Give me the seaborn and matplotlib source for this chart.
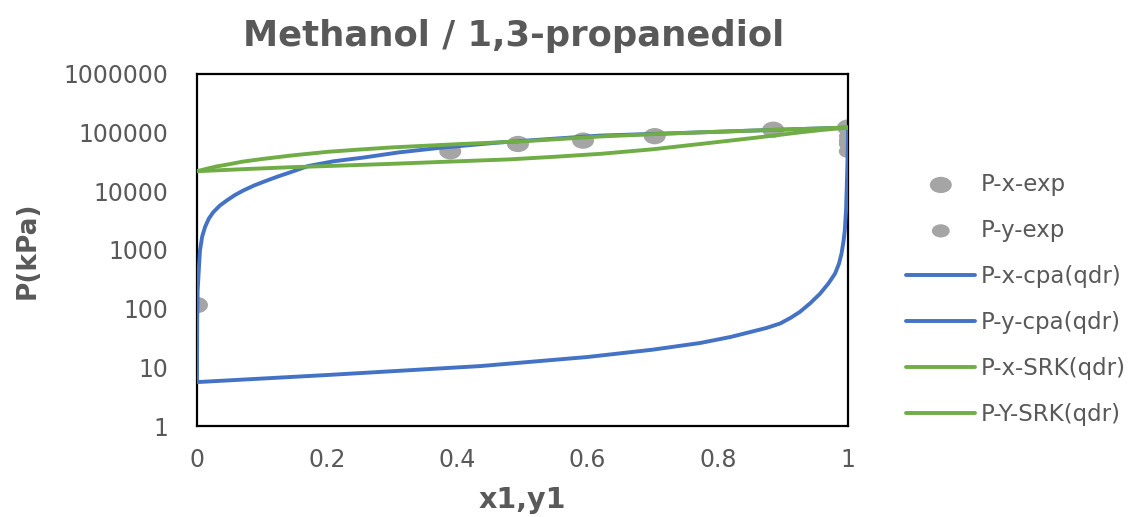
import matplotlib
matplotlib.use("Agg")
import matplotlib.pyplot as plt
from matplotlib.path import Path
import seaborn as sns

# Experimental points
x_exp = [0.0, 0.389, 0.493, 0.593, 0.703, 0.885, 1.0]
p_x_exp = [115, 48000, 64000, 73000, 87000, 112000, 122000]
y_exp = [0.9995, 0.9996, 0.9997, 0.9998, 0.9999]
p_y_exp = [48000, 64000, 73000, 87000, 112000]

# CPA model, bubble and dew curves
x_cpa = [0.0, 0.0003, 0.001, 0.003, 0.0046, 0.008, 0.0123, 0.018, 0.025, 0.035,
         0.0456, 0.058, 0.071, 0.088, 0.107, 0.125, 0.143, 0.171, 0.21, 0.255,
         0.31, 0.373, 0.465, 0.55, 0.619, 0.7, 0.773, 0.85, 0.926, 1.0]
p_x_cpa = [5.6, 60, 200, 510, 990, 1700, 2450, 3400, 4400, 5700,
           6950, 8600, 10300, 12600, 15200, 18000, 21000, 27000, 32500, 37500,
           46000, 55000, 68000, 79000, 89000, 95000, 101000, 108000, 115000, 122000]
y_cpa = [0.0, 0.2, 0.435, 0.6, 0.7, 0.773, 0.82, 0.85, 0.875, 0.896,
         0.912, 0.926, 0.942, 0.957, 0.97, 0.98, 0.986, 0.990, 0.993, 0.995,
         0.997, 0.998, 0.999, 0.9995, 1.0]
p_y_cpa = [5.6, 7.4, 10.5, 15, 20, 26, 33, 40, 47, 56,
           70, 88, 124, 180, 270, 395, 580, 870, 1400, 2150,
           5000, 11800, 28000, 50000, 122000]

# SRK model, bubble and dew curves
x_srk = [0.0, 0.015, 0.03, 0.05, 0.07, 0.1, 0.143, 0.2, 0.25, 0.3,
         0.4, 0.5, 0.62, 0.7, 0.773, 0.85, 0.926, 1.0]
p_x_srk = [22000, 24200, 26500, 29000, 32000, 35500, 40500, 47000, 51500, 56000,
           63500, 71000, 86000, 94000, 101000, 108000, 115000, 122000]
y_srk = [0.0, 0.07, 0.143, 0.22, 0.296, 0.38, 0.48, 0.55, 0.62, 0.7,
         0.773, 0.85, 0.9, 0.926, 0.96, 1.0]
p_y_srk = [22000, 23800, 25700, 27400, 29300, 31800, 35000, 38800, 43500, 52000,
           64000, 80000, 93000, 101000, 111000, 122000]

y_ticks = [1, 10, 100, 1000, 10000, 100000, 1000000]
y_tick_labels = ["1", "10", "100", "1000", "10000", "100000", "1000000"]
x_ticks = [0, 0.2, 0.4, 0.6, 0.8, 1.0]
x_tick_labels = ["0", "0.2", "0.4", "0.6", "0.8", "1"]

sns.set_theme(style="white")
plt.rcParams["font.family"] = ["DejaVu Sans"]

TEXT = "#595959"
BLUE = "#4472C4"
GREEN = "#70AD47"
GREY = "#A5A5A5"

fig = plt.figure(figsize=(11.42, 5.17), dpi=100)
ax = fig.add_axes([0.1725, 0.176, 0.5701, 0.681])
ax.set_yscale("log")

circle = Path.unit_circle()
oval = Path(circle.vertices * [1.35, 1.0], circle.codes)

sns.scatterplot(x=x_exp, y=p_x_exp, ax=ax, marker=oval, s=250, color=GREY,
                edgecolor="none", label="P-x-exp", zorder=2)
sns.scatterplot(x=y_exp, y=p_y_exp, ax=ax, marker=oval, s=165, color=GREY,
                edgecolor="none", label="P-y-exp", zorder=2)

lw = 2.8
sns.lineplot(x=x_cpa, y=p_x_cpa, ax=ax, sort=False, estimator=None, color=BLUE,
             lw=lw, label="P-x-cpa(qdr)", zorder=3)
sns.lineplot(x=y_cpa, y=p_y_cpa, ax=ax, sort=False, estimator=None, color=BLUE,
             lw=lw, label="P-y-cpa(qdr)", zorder=3)
sns.lineplot(x=x_srk, y=p_x_srk, ax=ax, sort=False, estimator=None, color=GREEN,
             lw=lw, label="P-x-SRK(qdr)", zorder=4)
sns.lineplot(x=y_srk, y=p_y_srk, ax=ax, sort=False, estimator=None, color=GREEN,
             lw=lw, label="P-Y-SRK(qdr)", zorder=4)

ax.set_xlim(0, 1)
ax.set_ylim(1, 1000000)
ax.set_yticks(y_ticks, y_tick_labels)
ax.set_xticks(x_ticks, x_tick_labels)
ax.minorticks_off()
ax.tick_params(axis="both", length=0, labelsize=17, labelcolor=TEXT)
ax.tick_params(axis="y", pad=21)
ax.tick_params(axis="x", pad=16)
ax.grid(False)
for sp in ax.spines.values():
    sp.set_visible(True)
    sp.set_color("black")
    sp.set_linewidth(1.6)

ax.set_xlabel("x1,y1", fontsize=20.5, fontweight="bold", color=TEXT, labelpad=10)
ax.set_ylabel("P(kPa)", fontsize=19, fontweight="bold", color=TEXT, labelpad=16)
ax.set_title("Methanol / 1,3-propanediol", fontsize=25.5, fontweight="bold",
             color=TEXT, pad=20, x=0.486)

handles, labels = ax.get_legend_handles_labels()
leg = ax.legend(handles, labels, loc="center left", bbox_to_anchor=(1.058, 0.36),
                frameon=False, fontsize=16.5, labelspacing=1.0, handlelength=3.0,
                handletextpad=0.25)
for t in leg.get_texts():
    t.set_color(TEXT)

fig.savefig("out.png", dpi=100)
